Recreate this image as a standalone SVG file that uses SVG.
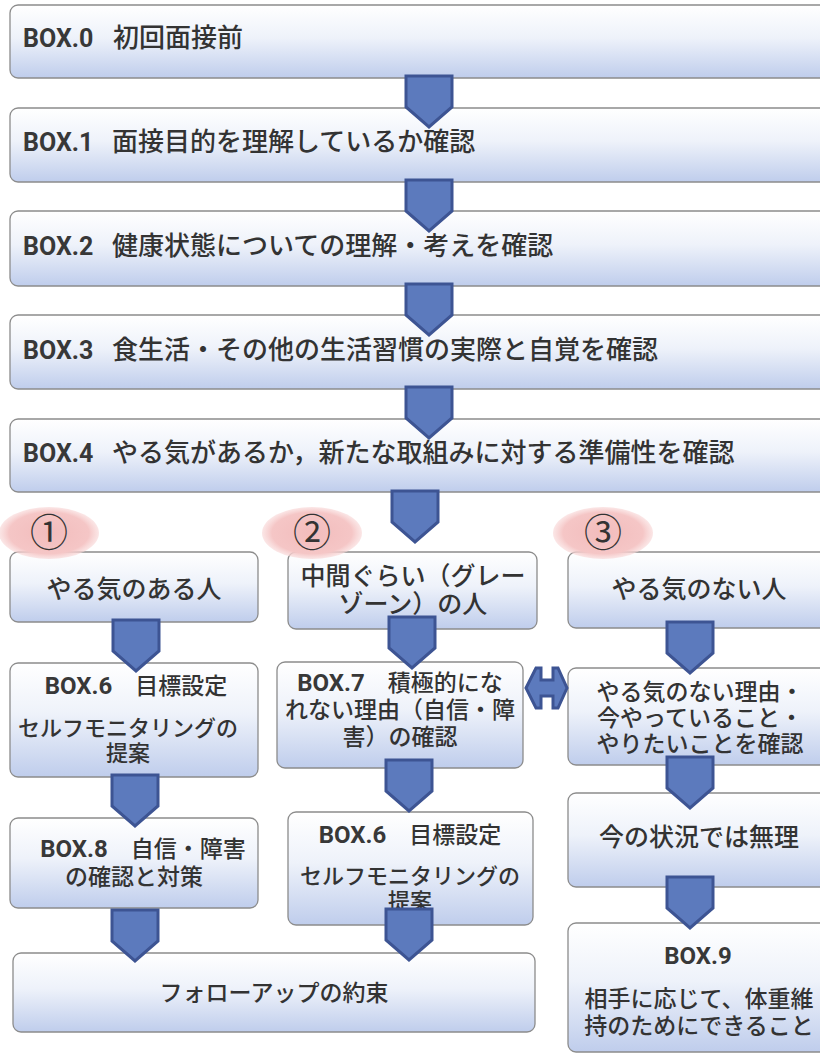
<svg xmlns="http://www.w3.org/2000/svg" width="820" height="1056" viewBox="0 0 820 1056">
<defs>
<linearGradient id="bg" x1="0" y1="0" x2="0" y2="1">
<stop offset="0" stop-color="#ffffff"/>
<stop offset="0.45" stop-color="#eef2fa"/>
<stop offset="1" stop-color="#bfcdec"/>
</linearGradient>
<radialGradient id="pink" cx="0.5" cy="0.5" r="0.5">
<stop offset="0" stop-color="#f2bcbc"/>
<stop offset="0.8" stop-color="#f5c6c6"/>
<stop offset="1" stop-color="#f8d6d6" stop-opacity="0.6"/>
</radialGradient>
<path id="arr" d="M-23,0 H23 V31 L0,51 L-23,31 Z"/>
</defs>
<style>
.box{fill:url(#bg);stroke:#8c8c8c;stroke-width:1.3}
.jp{font-family:"Noto Sans CJK JP",sans-serif;font-weight:500;fill:#333333}
.bx{font-family:Roboto,"Liberation Sans",sans-serif;font-weight:bold;fill:#383838}
.t26{font-size:26px}
.t25{font-size:25px}
.t23{font-size:23px}
.t22{font-size:22px}
.c{text-anchor:middle}
.arw{fill:#5c7abd;stroke:#3d5493;stroke-width:3;stroke-linejoin:miter}
.badge{fill:url(#pink)}
.num{font-family:"Noto Sans CJK JP",sans-serif;font-size:38px;fill:#333333;text-anchor:middle}
</style>
<rect width="820" height="1056" fill="#ffffff"/>

<g id="box0"><rect class="box" x="10" y="5" width="830" height="73" rx="8"/>
<text class="bx" x="23" y="47" font-size="25">BOX.0</text><text class="jp t26" x="113" y="47">初回面接前</text></g>
<g id="box1"><rect class="box" x="10" y="108" width="830" height="74" rx="8"/>
<text class="bx" x="23" y="151" font-size="25">BOX.1</text><text class="jp t26" x="112" y="151">面接目的を理解しているか確認</text></g>
<g id="box2"><rect class="box" x="10" y="211" width="830" height="75" rx="8"/>
<text class="bx" x="23" y="255" font-size="25">BOX.2</text><text class="jp t26" x="112" y="255">健康状態についての理解・考えを確認</text></g>
<g id="box3"><rect class="box" x="10" y="315" width="830" height="74" rx="8"/>
<text class="bx" x="23" y="359" font-size="25">BOX.3</text><text class="jp t26" x="112" y="359">食生活・その他の生活習慣の実際と自覚を確認</text></g>
<g id="box4"><rect class="box" x="10" y="419" width="830" height="73" rx="8"/>
<text class="bx" x="23" y="462" font-size="25">BOX.4</text><text class="jp t26" x="112" y="462">やる気があるか，新たな取組みに対する準備性を確認</text></g>

<g id="motivated"><rect class="box" x="10" y="552" width="248" height="70" rx="8"/>
<text class="jp t25 c" x="134" y="598">やる気のある人</text></g>
<g id="grayzone"><rect class="box" x="288" y="552" width="249" height="77" rx="8"/>
<text class="jp t25 c" x="413" y="585">中間ぐらい（グレー</text>
<text class="jp t25 c" x="413" y="613">ゾーン）の人</text></g>
<g id="unmotivated"><rect class="box" x="568" y="552" width="262" height="76" rx="8"/>
<text class="jp t25 c" x="699" y="598">やる気のない人</text></g>

<g id="box6a"><rect class="box" x="10" y="663" width="248" height="114" rx="8"/>
<text class="c" x="136" y="694"><tspan class="bx" font-size="24">BOX.6</tspan><tspan class="jp t23">　目標設定</tspan></text>
<text class="jp t22 c" x="128" y="736">セルフモニタリングの</text>
<text class="jp t22 c" x="128" y="761">提案</text></g>
<g id="box7"><rect class="box" x="277" y="662" width="246" height="106" rx="8"/>
<text class="c" x="400" y="691"><tspan class="bx" font-size="24">BOX.7</tspan><tspan class="jp t23">　積極的にな</tspan></text>
<text class="jp t23 c" x="400" y="718">れない理由（自信・障</text>
<text class="jp t23 c" x="400" y="745">害）の確認</text></g>
<g id="reason"><rect class="box" x="568" y="668" width="262" height="97" rx="8"/>
<text class="jp t23 c" x="700" y="700">やる気のない理由・</text>
<text class="jp t23 c" x="700" y="726">今やっていること・</text>
<text class="jp t23 c" x="700" y="752">やりたいことを確認</text></g>

<g id="box8"><rect class="box" x="10" y="818" width="248" height="90" rx="8"/>
<text class="c" x="143" y="857"><tspan class="bx" font-size="24">BOX.8</tspan><tspan class="jp t23">　自信・障害</tspan></text>
<text class="jp t23 c" x="134" y="885">の確認と対策</text></g>
<g id="box6b"><rect class="box" x="288" y="812" width="245" height="113" rx="8"/>
<text class="c" x="410" y="843"><tspan class="bx" font-size="24">BOX.6</tspan><tspan class="jp t23">　目標設定</tspan></text>
<text class="jp t22 c" x="410" y="884">セルフモニタリングの</text>
<text class="jp t22 c" x="410" y="909">提案</text></g>
<g id="impossible"><rect class="box" x="568" y="793" width="262" height="94" rx="8"/>
<text class="jp t25 c" x="699" y="846">今の状況では無理</text></g>

<g id="followup"><rect class="box" x="13" y="953" width="522" height="79" rx="8"/>
<text class="jp t23 c" x="274" y="1001">フォローアップの約束</text></g>
<g id="box9"><rect class="box" x="568" y="923" width="262" height="129" rx="8"/>
<text class="bx c" x="698" y="964" font-size="24">BOX.9</text>
<text class="jp t23 c" x="699" y="1007">相手に応じて、体重維</text>
<text class="jp t23 c" x="699" y="1034">持のためにできること</text></g>

<g id="connectors" class="arw">
<use href="#arr" x="429" y="76"/>
<use href="#arr" x="429" y="180"/>
<use href="#arr" x="429" y="284"/>
<use href="#arr" x="429" y="387"/>
<use href="#arr" x="415" y="491"/>
<use href="#arr" x="136" y="620"/>
<use href="#arr" x="135" y="775"/>
<use href="#arr" x="135" y="910"/>
<use href="#arr" x="412" y="617"/>
<use href="#arr" x="409" y="760"/>
<use href="#arr" x="409" y="909"/>
<use href="#arr" x="690" y="622"/>
<use href="#arr" x="690" y="757"/>
<use href="#arr" x="690" y="877"/>
<polygon points="526,688 536,668 541,668 541,680 553,680 553,668 558,668 567,688 558,708 553,708 553,696 541,696 541,708 536,708"/>
</g>

<g id="badge1"><ellipse class="badge" cx="49" cy="533" rx="50" ry="26"/><text class="num" x="49" y="546">①</text></g>
<g id="badge2"><ellipse class="badge" cx="312" cy="533" rx="50" ry="26"/><text class="num" x="312" y="546">②</text></g>
<g id="badge3"><ellipse class="badge" cx="603" cy="533" rx="50" ry="26"/><text class="num" x="603" y="546">③</text></g>
</svg>
